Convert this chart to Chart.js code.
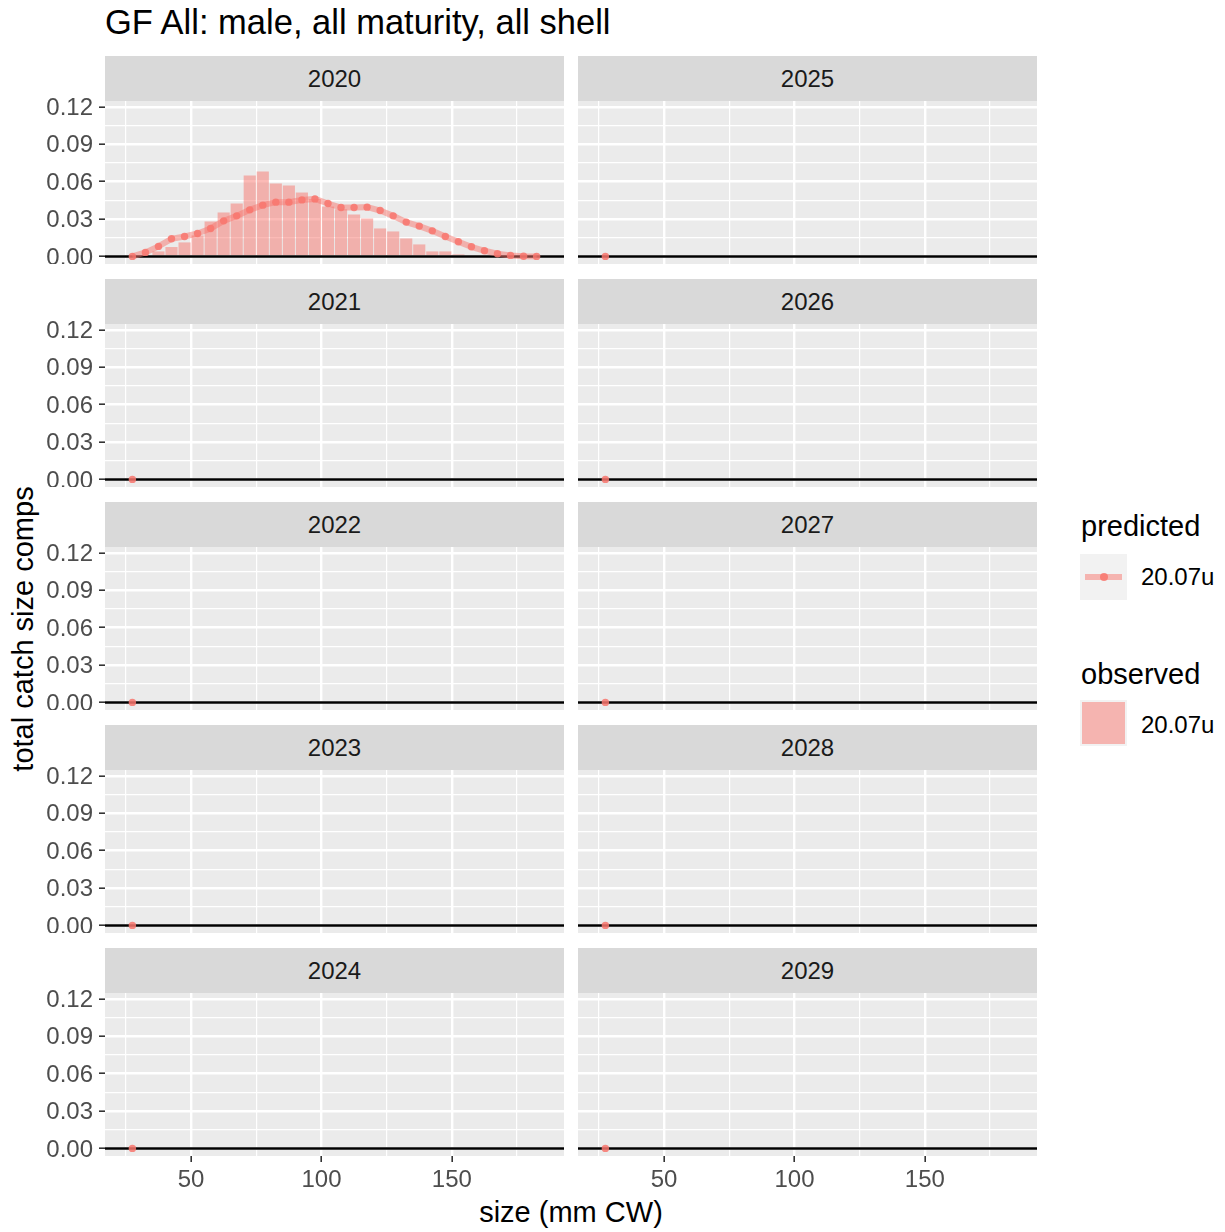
<!DOCTYPE html>
<html>
<head>
<meta charset="utf-8">
<script src="https://cdn.jsdelivr.net/npm/chart.js@4.4.1/dist/chart.umd.min.js"></script>
<style>
  body { margin: 0; background: #fff; width: 1225px; height: 1232px; position: relative; overflow: hidden;
         font-family: "Liberation Sans", Arial, Helvetica, sans-serif; }
  canvas { position: absolute; }
  .strip { position: absolute; background: #D9D9D9; color: #1A1A1A; font-size: 24px; text-align: center;
           height: 45px; line-height: 45px; }
  .txt { position: absolute; white-space: nowrap; color: #000; }
</style>
</head>
<body>
<div class="txt" style="left:105px; top:5px; font-size:34.5px; line-height:34.5px;">GF All: male, all maturity, all shell</div>
<div class="txt" style="left:23px; top:629px; font-size:29px; line-height:29px; transform: translate(-50%, -50%) rotate(-90deg);">total catch size comps</div>
<div class="txt" style="left:571px; top:1212px; font-size:29px; line-height:29px; transform: translate(-50%, -50%);">size (mm CW)</div>

<!-- legend -->
<div class="txt" style="left:1081px; top:511.5px; font-size:29px; line-height:29px;">predicted</div>
<div style="position:absolute; left:1080px; top:554px; width:47px; height:46px; background:#F2F2F2;"></div>
<div style="position:absolute; left:1085px; top:574px; width:37px; height:6px; background:rgba(248,118,109,0.5);"></div>
<div style="position:absolute; left:1099.5px; top:573px; width:8px; height:8px; border-radius:50%; background:rgba(248,118,109,0.85);"></div>
<div class="txt" style="left:1141px; top:565px; font-size:24px; line-height:24px;">20.07u</div>

<div class="txt" style="left:1081px; top:659.5px; font-size:29px; line-height:29px;">observed</div>
<div style="position:absolute; left:1080px; top:700px; width:47px; height:46px; background:#F2F2F2;"></div>
<div style="position:absolute; left:1082px; top:702px; width:43px; height:42px; background:rgba(248,118,109,0.5);"></div>
<div class="txt" style="left:1141px; top:713px; font-size:24px; line-height:24px;">20.07u</div>

<script>
// facet years (first column 2020-2024, second column 2025-2029)
const years = [2020, 2021, 2022, 2023, 2024, 2025, 2026, 2027, 2028, 2029];

// size bin midpoints (mm CW)
const sizeBins = [27.5, 32.5, 37.5, 42.5, 47.5, 52.5, 57.5, 62.5, 67.5, 72.5, 77.5, 82.5, 87.5, 92.5, 97.5, 102.5,
                  107.5, 112.5, 117.5, 122.5, 127.5, 132.5, 137.5, 142.5, 147.5, 152.5, 157.5, 162.5, 167.5, 172.5, 177.5, 182.5];

// 2020 observed comps
const obs2020 = [0, 0, 0.004, 0.0075, 0.0112, 0.0168, 0.028, 0.0352, 0.0424, 0.0648, 0.068, 0.0584, 0.0568, 0.0512, 0.046, 0.04,
                 0.0378, 0.0336, 0.0304, 0.0224, 0.02, 0.0144, 0.0096, 0.004, 0.004, 0.0016, 0, 0, 0, 0, 0, 0];

// 2020 predicted comps
const pred2020 = [0, 0.0032, 0.008, 0.0141, 0.016, 0.0184, 0.0224, 0.0285, 0.0325, 0.0373, 0.0411, 0.0435, 0.0435, 0.0453, 0.0461, 0.0424,
                  0.0392, 0.0392, 0.0395, 0.0368, 0.0325, 0.0275, 0.0243, 0.0205, 0.016, 0.0117, 0.0077, 0.0045, 0.0021, 0.0008, 0.0001, 0];

// other years only have one predicted point
const otherBins = [27.5];
const otherPred = [0];

// axis ticks (major + minor grid)
const xTicks = [25, 50, 75, 100, 125, 150, 175];
const yTicks = [0, 0.015, 0.03, 0.045, 0.06, 0.075, 0.09, 0.105, 0.12];

const FONT = '"Liberation Sans", Arial, Helvetica, sans-serif';
const obsFill = 'rgba(248,118,109,0.5)';
const predLine = 'rgba(248,118,109,0.5)';
const predDot = 'rgba(248,118,109,0.85)';

const panelBg = {
  id: 'panelBg',
  beforeDraw(chart) {
    const a = chart.chartArea, ctx = chart.ctx;
    ctx.save();
    ctx.fillStyle = '#EBEBEB';
    ctx.fillRect(a.left, a.top, a.right - a.left, a.bottom - a.top);
    ctx.restore();
  }
};

// black hline at 0, drawn over the bars but under the predicted points
const zeroLine = {
  id: 'zeroLine',
  afterDatasetDraw(chart, args) {
    if (args.meta.type !== 'bar') return;
    const a = chart.chartArea, ctx = chart.ctx;
    const py = chart.scales.y.getPixelForValue(0);
    ctx.save();
    ctx.strokeStyle = '#000';
    ctx.lineWidth = 2.5;
    ctx.beginPath();
    ctx.moveTo(a.left, py);
    ctx.lineTo(a.right, py);
    ctx.stroke();
    ctx.restore();
  }
};

function makePanel(year, col, row) {
  const showY = col === 0, showX = row === 4;
  const panelTop = 101 + 223 * row;
  const panelH = 163;
  const padTop = 16;   // room for the top tick label above the panel
  const left = col === 0 ? 0 : 578;
  const width = col === 0 ? 564 : 459;
  const axisH = showX ? 45 : 0;

  const strip = document.createElement('div');
  strip.className = 'strip';
  strip.style.left = (col === 0 ? 105 : 578) + 'px';
  strip.style.width = '459px';
  strip.style.top = (panelTop - 45) + 'px';
  strip.textContent = year;
  document.body.appendChild(strip);

  const cv = document.createElement('canvas');
  cv.width = width;
  cv.height = padTop + panelH + axisH;
  cv.style.left = left + 'px';
  cv.style.top = (panelTop - padTop) + 'px';
  document.body.appendChild(cv);

  const bins = year === 2020 ? sizeBins : otherBins;
  const pred = year === 2020 ? pred2020 : otherPred;
  const obs = year === 2020 ? obs2020 : [];

  new Chart(cv.getContext('2d'), {
    type: 'bar',
    data: {
      datasets: [
        {
          type: 'line',
          label: 'predicted',
          data: bins.map((x, i) => ({ x: x, y: pred[i] })),
          borderColor: predLine,
          borderWidth: 6,
          pointRadius: 3.7,
          pointBorderWidth: 0,
          pointBackgroundColor: predDot,
          tension: 0,
          order: 1
        },
        {
          type: 'bar',
          label: 'observed',
          data: obs.map((v, i) => ({ x: sizeBins[i], y: v })),
          backgroundColor: obsFill,
          barPercentage: 0.93,
          categoryPercentage: 1,
          order: 2
        }
      ]
    },
    options: {
      responsive: false,
      animation: false,
      events: [],
      layout: { padding: { top: padTop, left: 0, right: 0, bottom: 0 }, autoPadding: false },
      plugins: { legend: { display: false }, tooltip: { enabled: false } },
      scales: {
        x: {
          type: 'linear',
          min: 17,
          max: 193,
          offset: false,
          afterBuildTicks: s => { s.ticks = xTicks.map(v => ({ value: v })); },
          afterFit: s => { s.height = axisH; s.paddingLeft = 0; s.paddingRight = 0; },
          border: { display: false },
          grid: {
            offset: false,
            color: '#FFFFFF',
            lineWidth: c => (c.tick && c.tick.value % 50 === 0) ? 2.4 : 1.2,
            drawTicks: showX,
            tickLength: 6,
            tickWidth: 1.6,
            tickColor: c => (c.tick && c.tick.value % 50 === 0) ? '#333333' : 'rgba(0,0,0,0)'
          },
          ticks: {
            display: showX,
            autoSkip: false,
            maxRotation: 0,
            color: '#4D4D4D',
            padding: 4,
            font: { size: 24, family: FONT },
            callback: v => v % 50 === 0 ? String(v) : ''
          }
        },
        y: {
          type: 'linear',
          min: -0.0061,
          max: 0.1246,
          afterBuildTicks: s => { s.ticks = yTicks.map(v => ({ value: v })); },
          afterFit: s => { s.width = showY ? 105 : 0; s.paddingTop = 0; s.paddingBottom = 0; },
          border: { display: false },
          grid: {
            color: '#FFFFFF',
            lineWidth: c => c.index % 2 === 0 ? 2.4 : 1.2,
            drawTicks: showY,
            tickLength: 6,
            tickWidth: 1.6,
            tickColor: c => c.index % 2 === 0 ? '#333333' : 'rgba(0,0,0,0)'
          },
          ticks: {
            display: showY,
            autoSkip: false,
            color: '#4D4D4D',
            padding: 6,
            labelOffset: 1.5,
            font: { size: 24, family: FONT },
            callback: (v, i) => i % 2 === 0 ? v.toFixed(2) : ''
          }
        }
      }
    },
    plugins: [panelBg, zeroLine]
  });
}

years.forEach((yr, k) => makePanel(yr, k < 5 ? 0 : 1, k % 5));
</script>
</body>
</html>
